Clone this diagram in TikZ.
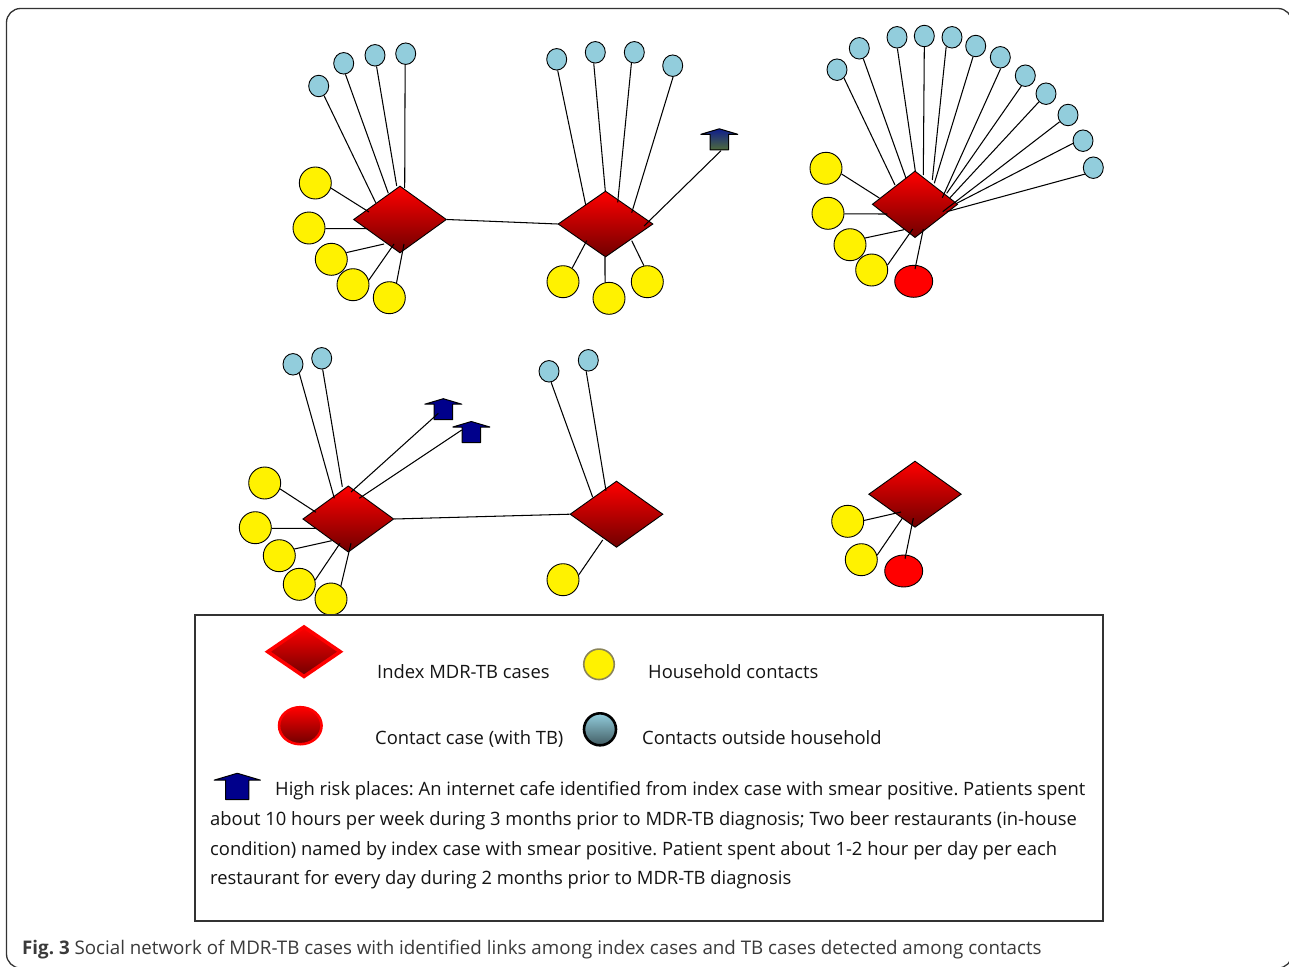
\documentclass[tikz,border=0pt]{standalone}
\usepackage{fontspec}
\setmainfont{Open Sans}
\usetikzlibrary{shapes.geometric}
\definecolor{lblue}{HTML}{92CDDC}
\definecolor{dkred}{HTML}{700000}
\definecolor{navy2}{HTML}{00008B}
\definecolor{capgray}{HTML}{3A3A3A}
\definecolor{duskgreen}{HTML}{4F6B3C}
\definecolor{duskblue}{HTML}{0F1E8C}
\definecolor{dullring}{HTML}{8A8458}
\frenchspacing
\tikzset{
  hubnode/.style={diamond,draw=black,line width=.9pt,inner sep=0pt,top color=red,bottom color=dkred,aspect=1.4},
  bluenode/.style={ellipse,draw=black,line width=.9pt,fill=lblue,inner sep=0pt,minimum width=20pt,minimum height=21.5pt},
  yellownode/.style={circle,draw=black,line width=.9pt,fill=yellow,inner sep=0pt,minimum size=32pt},
  rednode/.style={ellipse,draw=black,line width=.9pt,fill=red,inner sep=0pt,minimum width=38pt,minimum height=32pt},
  placebox/.style={rectangle,inner sep=0pt,minimum width=19pt,minimum height=15pt},
  link/.style={draw=black,line width=1.05pt},
  legendtext/.style={anchor=base west,inner sep=0pt,font=\fontsize{18.4}{20}\selectfont,text=black!92},
  captiontext/.style={anchor=base west,inner sep=0pt,font=\fontsize{18.75}{20}\selectfont,text=capgray}
}
\newcommand{\spoke}[4]{\coordinate (#1-e) at (#3,#4); \draw[link] (#1.#2) -- (#1-e);}
\newcommand{\hub}[5]{\node[hubnode,minimum width=#4pt,minimum height=#5pt] (#1) at (#2,#3) {};}
\newcommand{\placeicon}[5]{%
  \node[placebox,minimum width=#4*19pt,minimum height=#4*15pt] (#1) at (#2,#3) {};
  \path[draw=black,line width=1pt,line join=round,#5,shift={(#2,#3)},scale=#4]
    (0,-11) -- (18.5,-5.5) -- (9.3,-5.5) -- (9.3,10) -- (-9.3,10) -- (-9.3,-5.5) -- (-18.5,-5.5) -- cycle;}
\begin{document}
\begin{tikzpicture}[x=1pt,y=-1pt]
\useasboundingbox (0,0) rectangle (1289,966);
\fill[white] (0,0) rectangle (1289,966);
\draw[draw=black!80,line width=1.3pt,rounded corners=14pt] (6.5,8.5) rectangle (1292,968);

% --- hubs
\hub{a}{400}{219.5}{93}{67}
\hub{b}{605.5}{224}{95}{66}
\hub{c}{915}{204.3}{85.5}{66.7}
\hub{d}{348.3}{519}{91}{66.3}
\hub{e}{616.5}{514.2}{93}{66.3}
\hub{f}{915}{494.2}{92.7}{66.3}

% --- group A
\node[bluenode] (a1) at (318.7,86) {};
\node[bluenode] (a2) at (343.7,63.3) {};
\node[bluenode] (a3) at (375,55.3) {};
\node[bluenode] (a4) at (405.7,53.7) {};
\node[yellownode] (ay1) at (315.3,183) {};
\node[yellownode] (ay2) at (309,228) {};
\node[yellownode] (ay3) at (331.3,259.3) {};
\node[yellownode] (ay4) at (353,284.7) {};
\node[yellownode] (ay5) at (389.3,297.7) {};
\spoke{a1}{-61}{375.7}{202.7}
\spoke{a2}{-81}{388.3}{193.3}
\spoke{a3}{-82}{396.7}{186}
\spoke{a4}{-93}{404.7}{188}
\spoke{ay1}{-18.5}{369}{212}
\spoke{ay2}{-2.5}{367.3}{228.7}
\spoke{ay3}{24.5}{384}{244}
\spoke{ay4}{16}{394}{244}
\spoke{ay5}{64}{404}{244}

% --- group B
\node[bluenode] (b1) at (556.7,59.3) {};
\node[bluenode] (b2) at (595.3,52.3) {};
\node[bluenode] (b3) at (634.3,52.3) {};
\node[bluenode] (b4) at (672.7,65.7) {};
\node[yellownode] (by1) at (563,281.7) {};
\node[yellownode] (by2) at (609,298.3) {};
\node[yellownode] (by3) at (647.3,281.7) {};
\spoke{b1}{-85}{585.7}{205}
\spoke{b2}{-98}{605.3}{191}
\spoke{b3}{-105}{617.7}{202.3}
\spoke{b4}{-88}{631.7}{212.7}
\spoke{by1}{56}{586.7}{240.7}
\spoke{by2}{104}{605}{257}
\spoke{by3}{102}{631.7}{240.7}
\placeicon{p1}{719.3}{139.8}{1}{top color=duskblue,bottom color=duskgreen}
\coordinate (p1-s) at (721,150.7);
\coordinate (p1-e) at (644,226);
\draw[link] (p1-s) -- (p1-e);
\draw[link] (a.east) -- (b.west);

% --- group C
\node[bluenode] (c1) at (837,69.7) {};
\node[bluenode] (c2) at (859.3,48.3) {};
\node[bluenode] (c3) at (897,37.3) {};
\node[bluenode] (c4) at (924.3,36) {};
\node[bluenode] (c5) at (952,37.3) {};
\node[bluenode] (c6) at (975.7,46) {};
\node[bluenode] (c7) at (1000.3,57.3) {};
\node[bluenode] (c8) at (1025.3,75.7) {};
\node[bluenode] (c9) at (1046,93.7) {};
\node[bluenode] (c10) at (1068,115) {};
\node[bluenode] (c11) at (1083,140.7) {};
\node[bluenode] (c12) at (1093.3,167.7) {};
\node[yellownode] (cy1) at (826,168.3) {};
\node[yellownode] (cy2) at (828,213.3) {};
\node[yellownode] (cy3) at (850,244.7) {};
\node[yellownode] (cy4) at (871.7,270) {};
\node[rednode] (cr) at (913.7,281.3) {};
\spoke{c1}{-50}{895}{185}
\spoke{c2}{-69}{906}{178.3}
\spoke{c3}{-88}{915.3}{171}
\spoke{c4}{-90}{923.3}{175}
\spoke{c5}{-122}{932.3}{180}
\spoke{c6}{-104}{934.3}{183.3}
\spoke{c7}{-88}{942.3}{197.7}
\spoke{c8}{-111}{946.7}{193.3}
\spoke{c9}{-131}{950}{197.7}
\spoke{c10}{-141}{942.7}{211.7}
\spoke{c11}{-165}{956.7}{203.3}
\spoke{c12}{-143}{946.7}{211.7}
\spoke{cy1}{-20}{879.3}{198}
\spoke{cy2}{-2.5}{887.3}{214}
\spoke{cy3}{24}{904}{229.7}
\spoke{cy4}{17}{912.7}{229}
\coordinate (cr-s) at (915,269);
\coordinate (cr-e) at (923.3,229);
\draw[link] (cr-s) -- (cr-e);

% --- group D
\node[bluenode] (d1) at (293,364.3) {};
\node[bluenode] (d2) at (321.7,358.3) {};
\node[yellownode] (dy1) at (264.7,483) {};
\node[yellownode] (dy2) at (255.3,527.7) {};
\node[yellownode] (dy3) at (279.3,555.7) {};
\node[yellownode] (dy4) at (299.3,584.3) {};
\node[yellownode] (dy5) at (331,599) {};
\spoke{d1}{-55}{334.3}{498.3}
\spoke{d2}{-85}{342.3}{486.7}
\spoke{dy1}{-21}{316}{512.3}
\spoke{dy2}{-2}{316.7}{528.3}
\spoke{dy3}{24}{331.7}{540.7}
\spoke{dy4}{15}{340}{543.3}
\spoke{dy5}{53}{351}{543.3}
\placeicon{p2}{443.3}{409.7}{1}{fill=navy2}
\placeicon{p3}{471.3}{432.5}{1}{fill=navy2}
\coordinate (p2-s) at (438.3,413.3);
\coordinate (p2-e) at (351,492);
\coordinate (p3-s) at (461.7,430);
\coordinate (p3-e) at (359.3,498.3);
\draw[link] (p2-s) -- (p2-e);
\draw[link] (p3-s) -- (p3-e);
\draw[link] (d.east) -- (e.west);

% --- group E
\node[bluenode] (e1) at (549,371.3) {};
\node[bluenode] (e2) at (588.3,360.3) {};
\node[yellownode] (ey1) at (563,579.7) {};
\spoke{e1}{-79}{592.7}{497.3}
\spoke{e2}{-101}{606}{490.7}
\spoke{ey1}{17}{602.7}{540}

% --- group F
\node[yellownode] (fy1) at (847.7,521.3) {};
\node[yellownode] (fy2) at (861.3,559.7) {};
\node[rednode] (fr) at (903.7,571) {};
\spoke{fy1}{3}{901}{512}
\spoke{fy2}{16}{902.3}{518.3}
\coordinate (fr-s) at (905,558.7);
\coordinate (fr-e) at (913.3,518.3);
\draw[link] (fr-s) -- (fr-e);

% --- legend
\node[rectangle,draw=black!80,line width=1.1pt,inner sep=0pt,minimum width=908pt,minimum height=306pt] (legend) at (649,768) {};
\node[diamond,draw=red,line width=3.5pt,inner sep=0pt,aspect=1.4,minimum width=74pt,minimum height=51pt,top color=red,bottom color=dkred] (lgd) at (304,651.7) {};
\node[ellipse,draw=red,line width=2.6pt,inner sep=0pt,minimum width=42.5pt,minimum height=37pt,top color=red,bottom color=dkred] (lgr) at (300.3,725.7) {};
\node[circle,draw=dullring,line width=1.6pt,fill=yellow,inner sep=0pt,minimum size=30.5pt] (lgy) at (599,664.3) {};
\node[circle,draw=black,line width=2.6pt,inner sep=0pt,minimum size=32pt,top color=lblue,bottom color=lblue!45!black] (lgb) at (600,729.3) {};
\placeicon{lgp}{237.3}{787}{1.25}{fill=navy2}

\node[legendtext] (t1) at (377,678) {Index MDR-TB cases};
\node[legendtext] (t2) at (648,678) {Household contacts};
\node[legendtext] (t3) at (375,744) {Contact case (with TB)};
\node[legendtext] (t4) at (642,744) {Contacts outside household};
\node[legendtext] (t5) at (275,795) {High risk places: An internet cafe identified from index case with smear positive. Patients spent};
\node[legendtext] (t6) at (210,825) {about 10 hours per week during 3 months prior to MDR-TB diagnosis; Two beer restaurants (in-house};
\node[legendtext] (t7) at (210,855) {condition) named by index case with smear positive. Patient spent about 1-2 hour per day per each};
\node[legendtext] (t8) at (210,884) {restaurant for every day during 2 months prior to MDR-TB diagnosis};

\node[captiontext] (cap) at (22,954) {\textbf{Fig. 3} Social network of MDR-TB cases with identified links among index cases and TB cases detected among contacts};
\end{tikzpicture}
\end{document}
